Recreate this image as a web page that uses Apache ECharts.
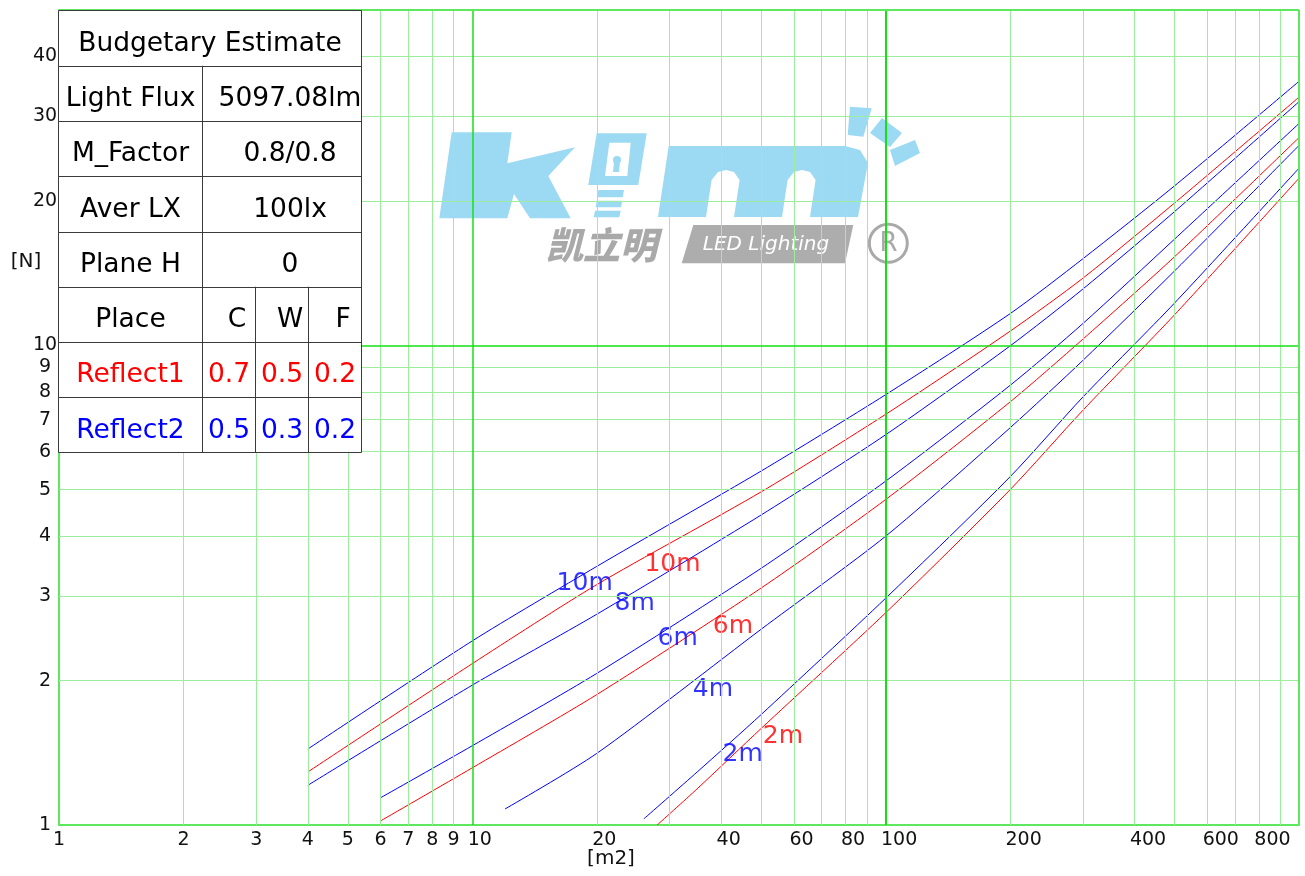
<!DOCTYPE html>
<html><head><meta charset="utf-8">
<script src="https://cdn.jsdelivr.net/npm/echarts@6.0.0/dist/echarts.min.js"></script>
<style>html,body{margin:0;padding:0;background:#fff}#c{width:1305px;height:876px}</style>
</head><body><div id="c"></div>
<script>
// ---------- data ----------
const xTickLabels = [1,2,3,4,5,6,7,8,9,10,20,40,60,80,100,200,400,600,800];
const yTickLabels = [1,2,3,4,5,6,7,8,9,10,20,30,40];
const xMinorGrid = [2,3,4,5,6,7,8,9,20,30,40,50,60,70,80,90,200,300,400,500,600,700,800,900];
const xMajorGrid = [10,100];
const yMinorGrid = [2,3,4,5,6,7,8,9,20,30,40];
const yMajorGrid = [10];

const blue10 = [[4,1.44],[10,2.42],[20,3.46],[50,5.47],[100,7.89],[200,11.64],[300,15.15],[500,21.5],[1000,35.5]];
const red10  = [[4,1.29],[10,2.17],[20,3.17],[50,4.95],[100,7.18],[200,10.7],[300,13.8],[500,19.8],[1000,32.9]];
const blue8  = [[4,1.21],[10,1.957],[20,2.75],[50,4.43],[100,6.51],[200,9.97],[300,13.1],[500,19.0],[1000,32.2]];
const blue6  = [[6,1.14],[10,1.463],[20,2.07],[50,3.43],[100,5.21],[200,8.25],[300,11.1],[500,16.65],[1000,29.0]];
const red6   = [[6,1.02],[10,1.316],[20,1.87],[50,3.12],[100,4.77],[200,7.62],[300,10.3],[500,15.3],[1000,27.1]];
const blue4  = [[12,1.08],[20,1.41],[50,2.56],[100,4.0],[200,6.73],[300,9.3],[500,14.29],[1000,26.1]];
const blue2  = [[26,1.03],[35,1.29],[50,1.70],[100,2.97],[200,5.32],[300,7.8],[500,12.25],[1000,23.4]];
const red2   = [[28,1.0],[35,1.19],[50,1.59],[100,2.77],[200,5.0],[300,7.32],[500,11.58],[1000,22.3]];

const curveNames  = ['blue10','red10','blue8','blue6','red6','blue4','blue2','red2'];
const curveData   = [blue10, red10, blue8, blue6, red6, blue4, blue2, red2];
const curveColors = ['#0000ff','#ff0000','#0000ff','#0000ff','#ff0000','#0000ff','#0000ff','#ff0000'];

const labelTexts  = ['10m','10m','8m','6m','6m','4m','2m','2m'];
const labelX      = [18.7, 30.5, 24.7, 31.4, 42.7, 38.2, 45.1, 56.4];
const labelY      = [3.19, 3.50, 2.89, 2.45, 2.59, 1.92, 1.40, 1.53];
const labelColors = ['#0000ff','#ff0000','#0000ff','#0000ff','#ff0000','#0000ff','#0000ff','#ff0000'];

const tableTitle  = 'Budgetary Estimate';
const tableLabels = ['Light Flux','M_Factor','Aver LX','Plane H'];
const tableValues = ['5097.08lm','0.8/0.8','100lx','0'];
const placeRow    = ['Place','C','W','F'];
const reflect1Row = ['Reflect1','0.7','0.5','0.2'];
const reflect2Row = ['Reflect2','0.5','0.3','0.2'];

// ---------- styles ----------
const FONT = '"DejaVu Sans", Verdana, sans-serif';
const MINOR = '#9ced9c', MAJOR = '#14e014', FRAME = '#5ee85e';

const gridLines = [];
xMinorGrid.forEach(v => gridLines.push({xAxis: v, lineStyle: {color: MINOR, width: 1, type: 'solid'}}));
yMinorGrid.forEach(v => gridLines.push({yAxis: v, lineStyle: {color: MINOR, width: 1, type: 'solid'}}));
xMajorGrid.forEach(v => gridLines.push({xAxis: v, lineStyle: {color: MAJOR, width: v === 100 ? 2 : 1.5, type: 'solid'}}));
yMajorGrid.forEach(v => gridLines.push({yAxis: v, lineStyle: {color: MAJOR, width: 1.5, type: 'solid'}}));
gridLines.push({xAxis: 1000, lineStyle: {color: FRAME, width: 2, type: 'solid'}});
gridLines.push({yAxis: 50, lineStyle: {color: FRAME, width: 2, type: 'solid'}});

const series = [{
  type: 'line', data: [], silent: true, z: 1, animation: false,
  markLine: {silent: true, symbol: ['none','none'], label: {show: false}, animation: false, data: gridLines}
}];
curveData.forEach((d, i) => series.push({
  type: 'line', name: curveNames[i], data: d, symbol: 'none', smooth: 0.25,
  lineStyle: {color: curveColors[i], width: 1}, z: 3, animation: false, silent: true
}));
series.push({
  type: 'scatter', symbolSize: 0, z: 4, animation: false, silent: true,
  data: labelTexts.map((t, i) => ({value: [labelX[i], labelY[i]], name: t,
    label: {color: labelColors[i]}})),
  label: {show: true, position: 'inside', formatter: p => p.name, fontSize: 25,
    fontFamily: FONT, align: 'center', verticalAlign: 'middle'}
});

// ---------- table graphic ----------
const T = {x0: 58.5, x1: 361.5, y0: 10.5, rowH: 55.25, c1: 202.5, c2: 255.5, c3: 308.5};
const rowTop = k => T.y0 + k * T.rowH;
const tEls = [];
tEls.push({type: 'rect', shape: {x: T.x0, y: T.y0, width: T.x1 - T.x0, height: 8 * T.rowH},
  style: {fill: '#fff', stroke: '#3a3a3a', lineWidth: 1}, z: 100});
for (let k = 1; k < 8; k++) {
  const y = Math.round(rowTop(k)) + 0.5;
  tEls.push({type: 'line', shape: {x1: T.x0, y1: y, x2: T.x1, y2: y}, style: {stroke: '#3a3a3a', lineWidth: 1}, z: 101});
}
tEls.push({type: 'line', shape: {x1: T.c1, y1: rowTop(1), x2: T.c1, y2: rowTop(8)}, style: {stroke: '#3a3a3a', lineWidth: 1}, z: 101});
[T.c2, T.c3].forEach(c => tEls.push({type: 'line', shape: {x1: c, y1: rowTop(5), x2: c, y2: rowTop(8)}, style: {stroke: '#3a3a3a', lineWidth: 1}, z: 101}));
function tText(txt, x, k, color) {
  tEls.push({type: 'text', x: x, y: rowTop(k) + 33.5, z: 102,
    style: {text: txt, fill: color || '#000', font: '26.5px ' + FONT, textAlign: 'center', textVerticalAlign: 'middle'}});
}
tText(tableTitle, 210, 0);
tableLabels.forEach((t, i) => { tText(t, 130.5, i + 1); tText(tableValues[i], 290, i + 1); });
tText(placeRow[0], 130.5, 5); tText(placeRow[1], 237, 5); tText(placeRow[2], 290, 5); tText(placeRow[3], 343, 5);
[[reflect1Row, '#ff0000', 6], [reflect2Row, '#0000ff', 7]].forEach(([r, col, k]) => {
  tText(r[0], 130.5, k, col); tText(r[1], 229, k, col); tText(r[2], 282, k, col); tText(r[3], 335, k, col);
});

// ---------- logo graphic (decoration) ----------
const LB = '#9cdaf3', LG = '#a9a9a9';
const poly = (pts, fill, z) => ({type: 'polygon', shape: {points: pts}, style: {fill: fill}, z: z || 0});
const logo = [
  poly([[451.7,132.3],[511.7,132.3],[507.3,163.3],[575,147.3],[548.3,176],[570.7,218.3],[530,218.3],[514,194],[507.3,218.3],[439.3,218.3]], LB),
  poly([[596.7,133.3],[646.7,133.3],[638.3,185],[588.3,185]], LB),
  poly([[609.3,142.7],[630.7,142.7],[627.3,176],[605,176]], '#fff'),
  {type: 'circle', shape: {cx: 617, cy: 160, r: 4}, style: {fill: LB}, z: 0},
  poly([[614,162],[620,162],[619,172],[613,172]], LB),
  poly([[598.3,190],[624,190],[622.7,197.3],[597.3,197.3]], LB),
  poly([[596.7,200.7],[622.3,200.7],[621,207.3],[595.7,207.3]], LB),
  poly([[595,210.7],[620.7,210.7],[619.3,217.3],[593.7,217.3]], LB),
  poly([[658,217],[668.7,146],[845,146],[860,150],[868,163],[858,217],[810,217],[815.6,180],[810,172],[802,170],[794,172],[787.6,180],[782,217],[734,217],[739.6,180],[734,172],[726,170],[718,172],[711.6,180],[706,217]], LB),
  poly([[850,106.7],[871.7,108.3],[863.3,136.7],[847.7,135]], LB),
  poly([[870,133],[882,118],[902,133],[890,147]], LB),
  poly([[890,150],[915,140],[920,153],[895,166]], LB),
  {type: 'text', x: 601.5, y: 245, z: 0, style: {text: '凯立明', fill: LG, font: 'italic 900 37px "Noto Sans CJK SC", sans-serif', textAlign: 'center', textVerticalAlign: 'middle'}},
  poly([[693.3,225],[853.3,225],[845,263.3],[681.7,263.3]], '#adadad'),
  {type: 'text', x: 766, y: 245, z: 0, style: {text: 'LED Lighting', fill: '#fff', font: 'italic 20px ' + FONT, textAlign: 'center', textVerticalAlign: 'middle'}},
  {type: 'circle', shape: {cx: 888.3, cy: 243.3, r: 19}, style: {fill: 'none', stroke: LG, lineWidth: 3}, z: 0},
  {type: 'text', x: 888.5, y: 244, z: 0, style: {text: 'R', fill: LG, font: '26px ' + FONT, textAlign: 'center', textVerticalAlign: 'middle'}}
];

const axisNames = [
  {type: 'text', x: 26, y: 262, z: 5, style: {text: '[N]', fill: '#111', font: '20px ' + FONT, textAlign: 'center', textVerticalAlign: 'middle'}},
  {type: 'text', x: 611, y: 859, z: 5, style: {text: '[m2]', fill: '#111', font: '20px ' + FONT, textAlign: 'center', textVerticalAlign: 'middle'}}
];

// ---------- chart ----------
const chart = echarts.init(document.getElementById('c'), null, {renderer: 'canvas'});
chart.setOption({
  animation: false,
  backgroundColor: '#fff',
  grid: {left: 59, right: 6, top: 10, bottom: 51, containLabel: false, outerBoundsMode: 'none'},
  xAxis: {
    type: 'log', logBase: 10, min: 1, max: 1000,
    axisLine: {show: true, lineStyle: {color: FRAME, width: 2}},
    axisTick: {show: false}, splitLine: {show: false}, minorSplitLine: {show: false},
    axisLabel: {
      customValues: xTickLabels, fontSize: 19, fontFamily: FONT, color: '#111', margin: 6,
      formatter: v => {
        const n = Math.round(v);
        if (n < 10) return String(n);
        return (n < 100 ? '{a|' : '{b|') + n + '}';
      },
      rich: {
        a: {fontSize: 19, fontFamily: FONT, color: '#111', padding: [0, 0, 0, 15]},
        b: {fontSize: 19, fontFamily: FONT, color: '#111', padding: [0, 0, 0, 27]}
      }
    }
  },
  yAxis: {
    type: 'log', logBase: 10, min: 1, max: 50,
    axisLine: {show: true, lineStyle: {color: FRAME, width: 2}},
    axisTick: {show: false}, splitLine: {show: false}, minorSplitLine: {show: false},
    axisLabel: {
      customValues: yTickLabels, fontSize: 19, fontFamily: FONT, color: '#111', margin: 14, align: 'center',
      formatter: v => String(Math.round(v))
    }
  },
  series: series,
  graphic: {elements: logo.concat(tEls).concat(axisNames)}
});
</script></body></html>
